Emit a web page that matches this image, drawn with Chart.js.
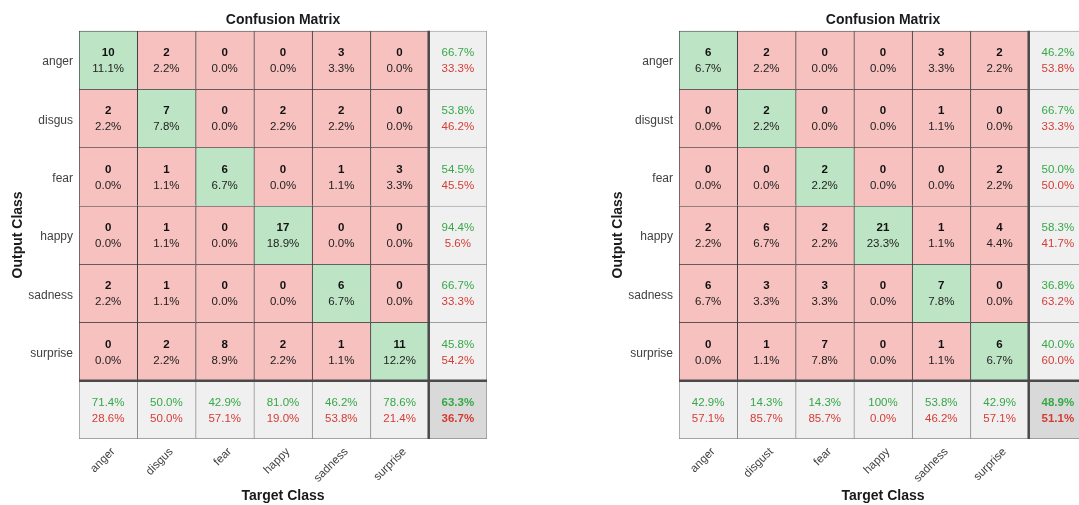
<!DOCTYPE html>
<html>
<head>
<meta charset="utf-8">
<script src="https://cdn.jsdelivr.net/npm/chart.js@4.4.0/dist/chart.umd.min.js"></script>
<style>
  html, body { margin: 0; padding: 0; background: #fff; overflow: hidden; }
  body { width: 1079px; height: 505px; position: relative; }
  canvas { position: absolute; top: 0; }
  #cmLeft { left: 0; }
  #cmRight { left: 600px; }
</style>
</head>
<body>
<canvas id="cmLeft" width="540" height="505"></canvas>
<canvas id="cmRight" width="540" height="505"></canvas>
<script>
// class names (output class = rows, target class = columns)
const leftClasses = ['anger', 'disgus', 'fear', 'happy', 'sadness', 'surprise'];
const rightClasses = ['anger', 'disgust', 'fear', 'happy', 'sadness', 'surprise'];

// left matrix, one row per output class
const leftAnger = [10, 2, 0, 0, 3, 0];
const leftDisgus = [2, 7, 0, 2, 2, 0];
const leftFear = [0, 1, 6, 0, 1, 3];
const leftHappy = [0, 1, 0, 17, 0, 0];
const leftSadness = [2, 1, 0, 0, 6, 0];
const leftSurprise = [0, 2, 8, 2, 1, 11];

// right matrix
const rightAnger = [6, 2, 0, 0, 3, 2];
const rightDisgust = [0, 2, 0, 0, 1, 0];
const rightFear = [0, 0, 2, 0, 0, 2];
const rightHappy = [2, 6, 2, 21, 1, 4];
const rightSadness = [6, 3, 3, 0, 7, 0];
const rightSurprise = [0, 1, 7, 0, 1, 6];

const leftRows = [leftAnger, leftDisgus, leftFear, leftHappy, leftSadness, leftSurprise];
const rightRows = [rightAnger, rightDisgust, rightFear, rightHappy, rightSadness, rightSurprise];

const FONT = '"Liberation Sans", Arial, Helvetica, sans-serif';
const GREEN_CELL = '#bde5c5';
const RED_CELL = '#f6c1be';
const GRAY_CELL = '#f0f0f0';
const DARK_CELL = '#d9d9d9';
const GREEN_TXT = '#35a846';
const RED_TXT = '#d63b34';

function fmtPct(v) {
  if (v === 100) return '100%';
  return v.toFixed(1) + '%';
}

// thick lines that split off the summary row / column
const separators = {
  id: 'separators',
  afterDatasetsDraw(chart) {
    const { ctx, chartArea, scales } = chart;
    const n = chart.data.labels.length - 1;
    const xb = (scales.x.getPixelForValue(n - 1) + scales.x.getPixelForValue(n)) / 2;
    const yb = scales.y.getPixelForValue(n - 0.5);
    ctx.save();
    ctx.strokeStyle = '#4a4a4a';
    ctx.lineWidth = 2.5;
    ctx.beginPath();
    ctx.moveTo(xb, chartArea.top);
    ctx.lineTo(xb, chartArea.bottom);
    ctx.moveTo(chartArea.left, yb);
    ctx.lineTo(chartArea.right, yb);
    ctx.stroke();
    ctx.restore();
  }
};

const cellText = {
  id: 'cellText',
  afterDraw(chart) {
    const { ctx } = chart;
    const rows = chart.options.plugins.cellText.rows;
    const n = rows.length;
    const total = rows.flat().reduce((a, b) => a + b, 0);
    ctx.save();
    ctx.textAlign = 'center';
    ctx.textBaseline = 'middle';
    chart.data.datasets.forEach((ds, r) => {
      chart.getDatasetMeta(r).data.forEach((bar, c) => {
        const cx = bar.x;
        const cy = (bar.y + bar.base) / 2;
        if (r < n && c < n) {
          ctx.font = 'bold 11.5px ' + FONT;
          ctx.fillStyle = '#111';
          ctx.fillText(String(rows[r][c]), cx, cy - 7);
          ctx.font = '11.5px ' + FONT;
          ctx.fillStyle = '#222';
          ctx.fillText(fmtPct(rows[r][c] / total * 100), cx, cy + 9);
          return;
        }
        let good, all, bold = false;
        if (r < n) {
          good = rows[r][r];
          all = rows[r].reduce((a, b) => a + b, 0);
        } else if (c < n) {
          good = rows[c][c];
          all = rows.reduce((a, row) => a + row[c], 0);
        } else {
          good = rows.reduce((a, row, i) => a + row[i], 0);
          all = total;
          bold = true;
        }
        const p = good / all * 100;
        ctx.font = (bold ? 'bold ' : '') + '11.5px ' + FONT;
        ctx.fillStyle = GREEN_TXT;
        ctx.fillText(fmtPct(p), cx, cy - 7);
        ctx.fillStyle = RED_TXT;
        ctx.fillText(fmtPct(100 - p), cx, cy + 9);
      });
    });
    ctx.restore();
  }
};

function buildChart(canvasId, classes, rows) {
  const n = classes.length;
  const size = n + 1;
  const datasets = [];
  for (let r = 0; r < size; r++) {
    const bg = [], bc = [], bw = [];
    for (let c = 0; c < size; c++) {
      if (r < n && c < n) {
        bg.push(r === c ? GREEN_CELL : RED_CELL);
        bc.push('#3a3a3a');
      } else {
        bg.push(r === n && c === n ? DARK_CELL : GRAY_CELL);
        bc.push('#8a8a8a');
      }
      bw.push({ left: 1, top: 1, right: c === n ? 1 : 0, bottom: r === n ? 1 : 0 });
    }
    datasets.push({
      data: Array.from({ length: size }, () => [r - 0.5, r + 0.5]),
      backgroundColor: bg,
      borderColor: bc,
      borderWidth: bw,
      borderSkipped: false,
      grouped: false,
      barPercentage: 1,
      categoryPercentage: 1
    });
  }

  return new Chart(document.getElementById(canvasId), {
    type: 'bar',
    data: { labels: [...classes, ''], datasets },
    plugins: [separators, cellText],
    options: {
      responsive: false,
      animation: false,
      layout: { padding: { left: 0, right: 53, top: 0, bottom: 0 } },
      plugins: {
        legend: { display: false },
        tooltip: { enabled: false },
        title: {
          display: true,
          text: 'Confusion Matrix',
          fullSize: false,
          color: '#1a1a1a',
          font: { family: FONT, size: 14, weight: 'bold' },
          padding: { top: 12, bottom: 2 }
        },
        cellText: { rows }
      },
      scales: {
        x: {
          type: 'category',
          grid: { display: false, drawTicks: false },
          border: { display: false },
          ticks: {
            autoSkip: false,
            minRotation: 45,
            maxRotation: 45,
            padding: 6,
            labelOffset: 5,
            color: '#404040',
            font: { family: FONT, size: 11.5 }
          },
          title: {
            display: true,
            text: 'Target Class',
            color: '#1a1a1a',
            font: { family: FONT, size: 14, weight: 'bold' },
            padding: { top: 0, bottom: 0 }
          },
          afterFit(scale) { scale.height = 66; }
        },
        y: {
          type: 'linear',
          reverse: true,
          min: -0.5,
          max: n + 0.5,
          grid: { display: false, drawTicks: false },
          border: { display: false },
          afterBuildTicks(scale) {
            scale.ticks = classes.map((_, i) => ({ value: i }));
          },
          ticks: {
            padding: 6,
            labelOffset: 2,
            color: '#404040',
            font: { family: FONT, size: 12 },
            callback: v => classes[v] || ''
          },
          title: {
            display: true,
            text: 'Output Class',
            color: '#1a1a1a',
            font: { family: FONT, size: 14, weight: 'bold' },
            padding: { top: 10, bottom: 0 }
          },
          afterFit(scale) { scale.width = 79; }
        }
      }
    }
  });
}

buildChart('cmLeft', leftClasses, leftRows);
buildChart('cmRight', rightClasses, rightRows);
</script>
</body>
</html>
